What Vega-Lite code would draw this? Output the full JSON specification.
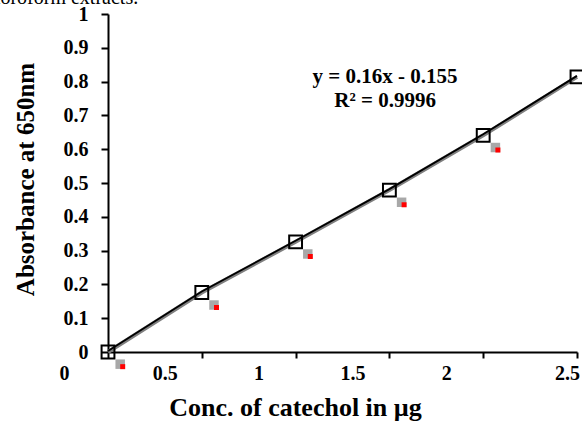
{
  "$schema": "https://vega.github.io/schema/vega-lite/v6.json",
  "width": 469,
  "height": 338,
  "autosize": {"type": "none"},
  "padding": {"left": 108, "top": 14, "right": 5, "bottom": 69},
  "background": "white",
  "config": {"view": {"stroke": null}, "font": "Liberation Serif"},
  "title": {"text": "chloroform extracts.", "anchor": "start", "frame": "group", "dx": -132, "dy": 20, "offset": 0, "baseline": "alphabetic", "font": "Liberation Serif", "fontSize": 20, "fontWeight": "normal", "color": "black"},
  "datasets": {
    "main": [
      {"conc": 0, "abs": 0},
      {"conc": 0.5, "abs": 0.176},
      {"conc": 1, "abs": 0.326},
      {"conc": 1.5, "abs": 0.479},
      {"conc": 2, "abs": 0.641},
      {"conc": 2.5, "abs": 0.814}
    ],
    "shadow": [
      {"conc": 0.065, "abs": -0.036},
      {"conc": 0.565, "abs": 0.139},
      {"conc": 1.065, "abs": 0.29},
      {"conc": 1.565, "abs": 0.443},
      {"conc": 2.065, "abs": 0.605},
      {"conc": 2.565, "abs": 0.778}
    ],
    "eq": [
      {"conc": 1.477, "abs": 0.796, "label": "y = 0.16x - 0.155"},
      {"conc": 1.477, "abs": 0.725, "label": "R² = 0.9996"}
    ]
  },
  "encoding": {
    "x": {
      "field": "conc", "type": "quantitative",
      "scale": {"domain": [0, 2.5], "nice": false, "zero": false},
      "axis": {
        "title": "Conc. of catechol in µg",
        "values": [0, 0.5, 1, 1.5, 2, 2.5],
        "format": "~g",
        "grid": false,
        "labelFlush": false,
        "labelOverlap": false,
        "domainColor": "black", "domainWidth": 2,
        "tickColor": "black", "tickWidth": 2, "tickSize": 6,
        "labelFont": "Liberation Serif", "labelFontWeight": "bold", "labelFontSize": 20, "labelColor": "black",
        "labelPadding": 5,
        "labelOffset": {"expr": "datum.value == 0 ? -44 : datum.value == 2.5 ? -10 : -37"},
        "titleFont": "Liberation Serif", "titleFontSize": 26, "titleFontWeight": "bold", "titleColor": "black",
        "titleX": 187, "titleY": 63, "titleBaseline": "alphabetic", "titleAlign": "center"
      }
    },
    "y": {
      "field": "abs", "type": "quantitative",
      "scale": {"domain": [0, 1], "nice": false},
      "axis": {
        "title": "Absorbance at 650nm",
        "values": [0, 0.1, 0.2, 0.3, 0.4, 0.5, 0.6, 0.7, 0.8, 0.9, 1],
        "format": "~g",
        "grid": false,
        "labelFlush": false,
        "labelOverlap": false,
        "domainColor": "black", "domainWidth": 2,
        "tickColor": "black", "tickWidth": 2, "tickSize": 7,
        "labelFont": "Liberation Serif", "labelFontWeight": "bold", "labelFontSize": 20, "labelColor": "black",
        "labelPadding": 13,
        "titleFont": "Liberation Serif", "titleFontSize": 25, "titleFontWeight": "bold", "titleColor": "black",
        "titleX": -75, "titleY": 165, "titleAngle": -90, "titleBaseline": "alphabetic", "titleAlign": "center"
      }
    }
  },
  "layer": [
    {"data": {"name": "main"}, "mark": {"type": "line", "color": "#7f7f7f", "strokeWidth": 4, "clip": false}},
    {"data": {"name": "main"}, "mark": {"type": "line", "color": "black", "strokeWidth": 1.8, "yOffset": -1, "clip": false}},
    {"data": {"name": "main"}, "mark": {"type": "point", "shape": "square", "size": 165, "filled": false, "stroke": "black", "strokeWidth": 2, "opacity": 1, "clip": false}},
    {"data": {"name": "shadow"}, "mark": {"type": "point", "shape": "square", "size": 90, "filled": true, "color": "#a8a8a8", "opacity": 1, "clip": false}},
    {"data": {"name": "shadow"}, "mark": {"type": "point", "shape": "square", "size": 25, "filled": true, "color": "#ff0000", "opacity": 1, "xOffset": 2.5, "yOffset": 2.5, "clip": false}},
    {"data": {"name": "eq"}, "mark": {"type": "text", "font": "Liberation Serif", "fontWeight": "bold", "fontSize": 21, "color": "black", "align": "center", "baseline": "alphabetic"}, "encoding": {"text": {"field": "label"}}}
  ]
}
